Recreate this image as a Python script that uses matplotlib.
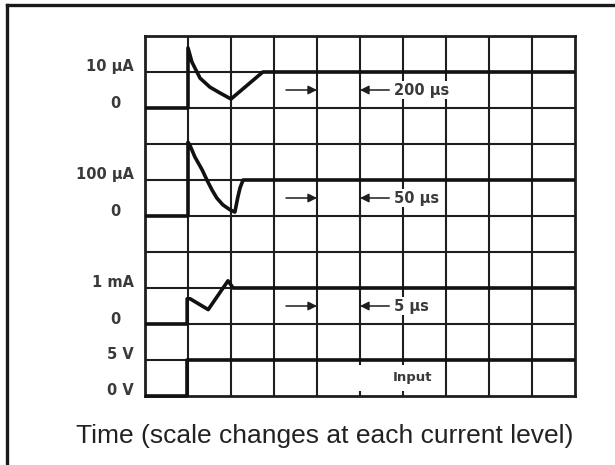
"""Oscilloscope-style response traces at three current levels plus the input step."""

import matplotlib

matplotlib.use("Agg")
import matplotlib.pyplot as plt  # noqa: E402
from matplotlib.lines import Line2D  # noqa: E402

plt.rcParams["font.family"] = ["Liberation Sans", "DejaVu Sans"]

N_DIV = 10

# traces, in screen divisions (x = time, y = divisions from the bottom)
TRACE_10UA_X = [0, 1, 1, 1.09, 1.28, 1.51, 1.74, 2.0, 2.74, 10]
TRACE_10UA_Y = [8, 8, 9.67, 9.28, 8.83, 8.58, 8.42, 8.25, 9.0, 9.0]

TRACE_100UA_X = [0, 1, 1, 1.05, 1.16, 1.33, 1.44, 1.56, 1.67, 1.81, 1.98,
                 2.09, 2.16, 2.21, 2.28, 10]
TRACE_100UA_Y = [5, 5, 7.05, 6.95, 6.64, 6.28, 6.0, 5.72, 5.5, 5.31, 5.17,
                 5.11, 5.53, 5.78, 6.0, 6.0]

TRACE_1MA_X = [0, 0.98, 0.98, 1.05, 1.47, 1.93, 2.05, 10]
TRACE_1MA_Y = [2, 2, 2.7, 2.7, 2.4, 3.2, 3.0, 3.0]

INPUT_X = [0, 0.98, 0.98, 10]
INPUT_Y = [0, 0, 1, 1]

LEVEL_LABELS = ["10 µA", "100 µA", "1 mA", "5 V", "0 V"]
LEVEL_VALUES = [9, 6, 3, 1, 0]
ZERO_VALUES = [8, 5, 2]
SCALE_LABELS = ["200 µs", "50 µs", "5 µs"]
CAPTION = "Time (scale changes at each current level)"

GRID_COLOR = "#1e1e1e"
TRACE_COLOR = "#111111"
TEXT_COLOR = "#3a3a3a"
OUTPUT_PATH = "out.png"


def run() -> None:
    fig = plt.figure(figsize=(6.15, 4.65), dpi=100)
    ax = fig.add_axes([145 / 615, 69 / 465, 430 / 615, 360 / 465])
    ax.set_xlim(0, N_DIV)
    ax.set_ylim(0, N_DIV)
    ax.set_xticks([])
    ax.set_yticks([])
    for sp in ax.spines.values():
        sp.set_linewidth(2.0)
        sp.set_color(GRID_COLOR)

    # graticule; columns 5 and 6 are broken in the bottom row around "Input"
    for k in range(1, N_DIV):
        ax.axhline(k, color=GRID_COLOR, lw=1.5, zorder=1)
        if k in (5, 6):
            ax.vlines([k, k, k], [1, 0, 0.86], [N_DIV, 0.14, 1],
                      color=GRID_COLOR, lw=1.5, zorder=1)
        else:
            ax.axvline(k, color=GRID_COLOR, lw=1.5, zorder=1)

    for xs, ys in [
        (TRACE_10UA_X, TRACE_10UA_Y),
        (TRACE_100UA_X, TRACE_100UA_Y),
        (TRACE_1MA_X, TRACE_1MA_Y),
        (INPUT_X, INPUT_Y),
    ]:
        ax.plot(xs, ys, color=TRACE_COLOR, lw=2.6, solid_joinstyle="round",
                solid_capstyle="butt", zorder=3, clip_on=False)

    label_kw = dict(color=TEXT_COLOR, fontsize=10.5, fontweight="bold",
                    family="DejaVu Sans", va="center", clip_on=False)
    for text, lvl in zip(LEVEL_LABELS, LEVEL_VALUES):
        ax.text(-0.26, lvl + 0.15, text, ha="right", **label_kw)
    for lvl in ZERO_VALUES:
        ax.text(-0.7, lvl + 0.12, "0", ha="center", **label_kw)

    arrow_kw = dict(arrowstyle="-|>", color=GRID_COLOR, lw=1.1,
                    mutation_scale=13, shrinkA=0, shrinkB=0)
    for text, lvl in zip(SCALE_LABELS, ZERO_VALUES):
        y = lvl + 0.5
        ax.annotate("", xy=(4.0, y), xytext=(3.28, y), arrowprops=arrow_kw,
                    zorder=4)
        ax.annotate("", xy=(5.0, y), xytext=(5.68, y), arrowprops=arrow_kw,
                    zorder=4)
        ax.text(5.78, y, text, ha="left", zorder=5,
                bbox=dict(facecolor="white", edgecolor="none", pad=1),
                **label_kw)

    ax.text(6.23, 0.52, "Input", ha="center", va="center", zorder=5,
            color=TEXT_COLOR, fontsize=9.5, fontweight="bold",
            family="DejaVu Sans",
            bbox=dict(facecolor="white", edgecolor="none", pad=1))

    # outer frame (left and top edges)
    fig.add_artist(Line2D([7 / 615, 7 / 615], [0, 1 - 5 / 465],
                          color="#1a1a1a", lw=2.4))
    fig.add_artist(Line2D([7 / 615, 1], [1 - 5 / 465, 1 - 5 / 465],
                          color="#1a1a1a", lw=2.4))

    fig.text(325 / 615, 22 / 465, CAPTION, ha="center", va="baseline",
             fontsize=19, color="#222222")

    fig.savefig(OUTPUT_PATH, dpi=100)
    plt.close(fig)


if __name__ == "__main__":
    run()
